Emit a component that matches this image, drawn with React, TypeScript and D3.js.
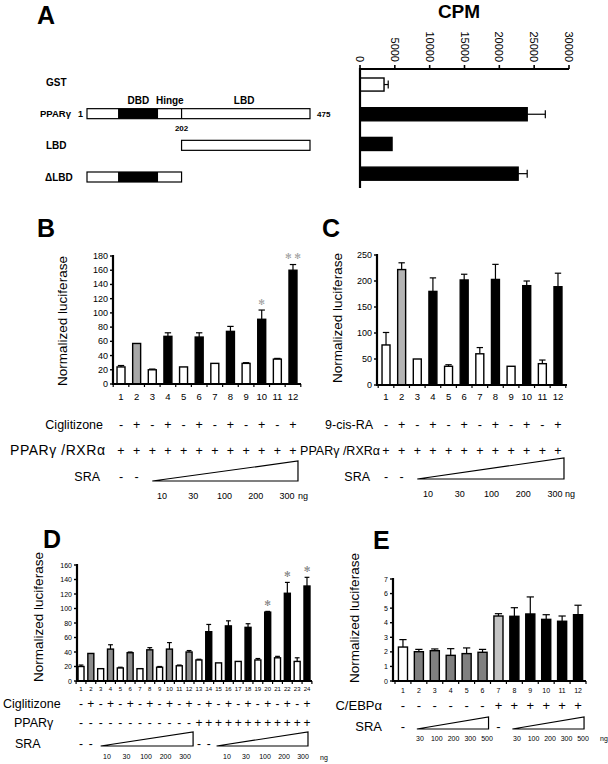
import * as d3 from 'd3';

const FONT = '"Liberation Sans", Arial, Helvetica, sans-serif';

// ---------- panel A: GST pull-down ----------
const aRows = ['GST', 'PPARγ', 'LBD', 'ΔLBD'];
const aCpm = [3450, 24000, 4600, 22700];
const aCpmErr = [4050, 26600, 4600, 24000];
const aCpmTicks = [0, 5000, 10000, 15000, 20000, 25000, 30000];
const aFills = ['white', 'black', 'black', 'black'];
// residue spans of each construct, DBD span
const aSpans: ([number, number] | null)[] = [null, [1, 475], [202, 475], [1, 202]];
const aDbd: ([number, number] | null)[] = [null, [67, 152], null, [67, 152]];
const aHinge = 202;
const aLength = 475;

// ---------- panel B: Ciglitizone ----------
const bLanes = ['1', '2', '3', '4', '5', '6', '7', '8', '9', '10', '11', '12'];
const bValues = [24, 57, 20, 67, 24, 66, 29, 74, 29, 91, 35, 160];
const bErr = [26, 57, 21, 72, 24, 72, 29, 81, 30, 104, 36, 168];
const bFills = ['white', '#a8a8a8', 'white', 'black', 'white', 'black', 'white', 'black', 'white', 'black', 'white', 'black'];
const bTicks = [0, 20, 40, 60, 80, 100, 120, 140, 160, 180];
const bStars: Record<number, string> = { 9: '✻', 11: '✻ ✻' };
const bLigand = ['-', '+', '-', '+', '-', '+', '-', '+', '-', '+', '-', '+'];
const bReceptor = ['+', '+', '+', '+', '+', '+', '+', '+', '+', '+', '+', '+'];
const bSra = ['-', '-', '', '', '', '', '', '', '', '', '', ''];
const srDoses = ['10', '30', '100', '200', '300'];

// ---------- panel C: 9-cis-RA ----------
const cValues = [77, 222, 50, 180, 36, 202, 60, 203, 36, 191, 41, 189];
const cErr = [101, 235, 50, 206, 39, 213, 72, 232, 36, 200, 48, 215];
const cFills = ['white', '#b4b4b4', 'white', 'black', 'white', 'black', 'white', 'black', 'white', 'black', 'white', 'black'];
const cTicks = [0, 50, 100, 150, 200, 250];

// ---------- panel D ----------
const dLanes = ['1', '2', '3', '4', '5', '6', '7', '8', '9', '10', '11', '12', '13', '14', '15', '16', '17', '18', '19', '20', '21', '22', '23', '24'];
const dValues = [20, 38, 17, 44, 18, 39, 17, 43, 19, 44, 21, 40, 29, 68, 25, 76, 27, 74, 29, 95, 32, 121, 27, 131];
const dErr = [22, 38, 17, 50, 19, 40, 17, 46, 20, 53, 22, 42, 30, 78, 25, 83, 27, 79, 31, 96, 34, 136, 32, 143];
const dFills = ['white', '#8c8c8c', 'white', '#8c8c8c', 'white', '#8c8c8c', 'white', '#8c8c8c', 'white', '#8c8c8c', 'white', '#8c8c8c',
  'white', 'black', 'white', 'black', 'white', 'black', 'white', 'black', 'white', 'black', 'white', 'black'];
const dTicks = [0, 20, 40, 60, 80, 100, 120, 140, 160];
const dStars: Record<number, string> = { 19: '✻', 21: '✻', 23: '✻' };
const dLigand = ['-', '+', '-', '+', '-', '+', '-', '+', '-', '+', '-', '+', '-', '+', '-', '+', '-', '+', '-', '+', '-', '+', '-', '+'];
const dReceptor = ['-', '-', '-', '-', '-', '-', '-', '-', '-', '-', '-', '-', '+', '+', '+', '+', '+', '+', '+', '+', '+', '+', '+', '+'];
const dSra = ['-', '-', '', '', '', '', '', '', '', '', '', '', '-', '-', '', '', '', '', '', '', '', '', '', ''];

// ---------- panel E: C/EBPα ----------
const eValues = [2.33, 2.01, 2.08, 1.76, 1.88, 1.97, 4.46, 4.44, 4.6, 4.23, 4.1, 4.55];
const eErr = [2.84, 2.17, 2.2, 2.22, 2.27, 2.17, 4.62, 5.03, 5.77, 4.55, 4.46, 5.2];
const eFills = ['white', '#808080', '#808080', '#808080', '#808080', '#808080', '#c4c4c4', 'black', 'black', 'black', 'black', 'black'];
const eTicks = [0, 1, 2, 3, 4, 5, 6, 7];
const eCebp = ['-', '-', '-', '-', '-', '-', '+', '+', '+', '+', '+', '+'];
const eSra = ['-', '', '', '', '', '', '-', '', '', '', '', ''];
const eDoses = ['30', '100', '200', '300', '500'];

const band = (cats: string[], r: [number, number], pad: number) =>
  d3.scaleBand<string>().domain(cats).range(r).paddingInner(pad).paddingOuter(pad / 2);

const xB = band(bLanes, [113.2, 300.8], 0.49);
const xC = band(bLanes, [378.2, 565.8], 0.49);
const xD = band(dLanes, [76.1, 311.9], 0.39);
const xE = band(bLanes, [395, 586], 0.43);
const mid = (x: d3.ScaleBand<string>, i: number) => (x(x.domain()[i]) ?? 0) + x.bandwidth() / 2;

type ChartProps = {
  x: d3.ScaleBand<string>;
  values: number[];
  errs: number[];
  fills: string[];
  axis: [number, number];
  yMax: number;
  yPix: [number, number];
  ticks: number[];
  tickFont: number;
  catFont: number;
  catY: number;
  title: string;
  titleX: number;
  titleY: number;
  stars?: Record<number, string>;
  starColor?: string;
  starFont?: number;
};

function BarChart(p: ChartProps) {
  const y = d3.scaleLinear().domain([0, p.yMax]).range(p.yPix);
  const bw = p.x.bandwidth();
  const cats = p.x.domain();
  const step = p.x.step();
  const r0 = p.x.range()[0];
  return (
    <g>
      {cats.map((c, i) => {
        const cx = mid(p.x, i);
        return (
          <g key={c}>
            {p.errs[i] > p.values[i] && (
              <g stroke="black" strokeWidth={1.2}>
                <line x1={cx} x2={cx} y1={y(p.values[i])} y2={y(p.errs[i])} />
                <line x1={cx - bw * 0.4} x2={cx + bw * 0.4} y1={y(p.errs[i])} y2={y(p.errs[i])} />
              </g>
            )}
            <rect x={p.x(c)} y={y(p.values[i])} width={bw} height={y(0) - y(p.values[i])}
              fill={p.fills[i]} stroke="black" strokeWidth={1.4} />
            <text x={cx} y={p.catY} fontSize={p.catFont} textAnchor="middle">{c}</text>
            {p.stars && p.stars[i] && (
              <text x={cx} y={y(p.errs[i]) - 8} fontSize={p.starFont} fill={p.starColor}
                textAnchor="middle" dominantBaseline="central" fontFamily="DejaVu Sans">{p.stars[i]}</text>
            )}
          </g>
        );
      })}
      <line x1={p.axis[0]} x2={p.axis[0]} y1={y(0) + 1} y2={y(p.yMax) - 1} stroke="black" strokeWidth={2.2} />
      <line x1={p.axis[0]} x2={p.axis[1]} y1={y(0)} y2={y(0)} stroke="black" strokeWidth={2.2} />
      {d3.range(cats.length + 1).map((k) => (
        <line key={k} x1={r0 + step * k} x2={r0 + step * k} y1={y(0)} y2={y(0) + 3} stroke="black" strokeWidth={1.2} />
      ))}
      {p.ticks.map((t) => (
        <g key={t}>
          <line x1={p.axis[0] - 3} x2={p.axis[0]} y1={y(t)} y2={y(t)} stroke="black" strokeWidth={1.4} />
          <text x={p.axis[0] - 5} y={y(t)} fontSize={p.tickFont} textAnchor="end" dominantBaseline="central">{t}</text>
        </g>
      ))}
      <text transform={`translate(${p.titleX},${p.titleY}) rotate(-90)`} fontSize={13.5} textAnchor="middle">{p.title}</text>
    </g>
  );
}

function SignRow({ x, signs, y, size }: { x: d3.ScaleBand<string>; signs: string[]; y: number; size: number }) {
  return (
    <g>
      {signs.map((s, i) => s && (
        <text key={i} x={mid(x, i)} y={y} fontSize={size} textAnchor="middle">{s}</text>
      ))}
    </g>
  );
}

function Ramp({ x0, x1, top, bottom }: { x0: number; x1: number; top: number; bottom: number }) {
  return <path d={`M${x0},${bottom}L${x1},${top}L${x1},${bottom}Z`} fill="white" stroke="black" strokeWidth={1.2} />;
}

function Doses({ doses, r, y, size, unit, unitDx }: { doses: string[]; r: [number, number]; y: number; size: number; unit?: string; unitDx?: number }) {
  const p = d3.scalePoint<string>().domain(doses).range(r);
  return (
    <g fontSize={size}>
      {doses.map((d) => (
        <text key={d} x={p(d)} y={y} textAnchor="middle">{d}</text>
      ))}
      {unit && <text x={r[1] + (unitDx ?? 10)} y={y}>{unit}</text>}
    </g>
  );
}

function PanelA() {
  const xs = d3.scaleLinear().domain([0, 30000]).range([360, 569]);
  const ys = d3.scaleBand<string>().domain(aRows).range([78, 180.2]).paddingInner(0.56).paddingOuter(0);
  const res = d3.scaleLinear().domain([1, aLength]).range([87, 310]);
  const rowY = d3.scalePoint<string>().domain(aRows).range([82, 177]);
  return (
    <g>
      <text x={37} y={24} fontSize={25} fontWeight="bold">A</text>
      <text x={459} y={18} fontSize={19} fontWeight="bold" textAnchor="middle">CPM</text>
      {/* diagram */}
      {aRows.map((r, i) => {
        const cy = rowY(r) ?? 0;
        const span = aSpans[i];
        const dbd = aDbd[i];
        return (
          <g key={r}>
            <text x={i === 1 ? 40 : i === 3 ? 45 : 46} y={cy + 3.5} fontSize={i === 1 ? 9.5 : 10} fontWeight="bold">
              {r}
            </text>
            {span && (
              <rect x={res(span[0])} y={cy - 5} width={res(span[1]) - res(span[0])} height={10} fill="white" stroke="black" strokeWidth={1.2} />
            )}
            {dbd && <rect x={res(dbd[0])} y={cy - 5} width={res(dbd[1]) - res(dbd[0])} height={10} fill="black" />}
            {i === 1 && <line x1={res(aHinge)} x2={res(aHinge)} y1={cy - 5} y2={cy + 5} stroke="black" strokeWidth={1.2} />}
          </g>
        );
      })}
      <text x={78} y={117} fontSize={9} fontWeight="bold">1</text>
      <text x={res(110)} y={104} fontSize={10} fontWeight="bold" textAnchor="middle">DBD</text>
      <text x={res(177)} y={104} fontSize={10} fontWeight="bold" textAnchor="middle">Hinge</text>
      <text x={res(335)} y={104} fontSize={10} fontWeight="bold" textAnchor="middle">LBD</text>
      <text x={res(aHinge)} y={131} fontSize={8} fontWeight="bold" textAnchor="middle">202</text>
      <text x={res(aLength) + 7} y={117} fontSize={8} fontWeight="bold">475</text>
      {/* binding chart */}
      {aRows.map((r, i) => {
        const y0 = ys(r) ?? 0;
        const h = ys.bandwidth();
        return (
          <g key={r}>
            <rect x={xs(0)} y={y0} width={xs(aCpm[i]) - xs(0)} height={h} fill={aFills[i]} stroke="black" strokeWidth={1.4} />
            {aCpmErr[i] > aCpm[i] && (
              <g stroke="black" strokeWidth={1.2}>
                <line x1={xs(aCpm[i])} x2={xs(aCpmErr[i])} y1={y0 + h / 2} y2={y0 + h / 2} />
                <line x1={xs(aCpmErr[i])} x2={xs(aCpmErr[i])} y1={y0 + h / 2 - 4} y2={y0 + h / 2 + 4} />
              </g>
            )}
          </g>
        );
      })}
      <line x1={xs(0)} x2={xs(0)} y1={68} y2={188} stroke="black" strokeWidth={2.2} />
      <line x1={xs(0)} x2={xs(30000)} y1={69} y2={69} stroke="black" strokeWidth={2.2} />
      {aCpmTicks.map((t) => (
        <g key={t}>
          <line x1={xs(t)} x2={xs(t)} y1={69} y2={65} stroke="black" strokeWidth={1.6} />
          <text transform={`translate(${xs(t)},62) rotate(90)`} fontSize={11} textAnchor="end" dominantBaseline="central">{t}</text>
        </g>
      ))}
    </g>
  );
}

export default function App() {
  return (
    <svg width={608} height={764} style={{ position: 'absolute', left: 0, top: 0, background: 'white' }} fontFamily={FONT}>
      <rect width={608} height={764} fill="white" />
      <PanelA />

      {/* B */}
      <text x={37} y={237} fontSize={25} fontWeight="bold">B</text>
      <BarChart x={xB} values={bValues} errs={bErr} fills={bFills} axis={[113, 301]} yMax={180} yPix={[384, 256]}
        ticks={bTicks} tickFont={9} catFont={9.5} catY={400} title="Normalized luciferase" titleX={67} titleY={321}
        stars={bStars} starColor="#999" starFont={8} />
      <text x={103} y={429} fontSize={12.5} textAnchor="end">Ciglitizone</text>
      <SignRow x={xB} signs={bLigand} y={429} size={12.5} />
      <text x={10} y={455} fontSize={14} textLength={95} lengthAdjust="spacing">PPARγ /RXRα</text>
      <SignRow x={xB} signs={bReceptor} y={455} size={12.5} />
      <text x={100} y={481} fontSize={12.5} textAnchor="end">SRA</text>
      <SignRow x={xB} signs={bSra} y={481} size={12.5} />
      <Ramp x0={mid(xB, 2)} x1={mid(xB, 11) + 5} top={461} bottom={481} />
      <Doses doses={srDoses} r={[162, 287]} y={499} size={9} unit="ng" unitDx={11} />

      {/* C */}
      <text x={322} y={237} fontSize={25} fontWeight="bold">C</text>
      <BarChart x={xC} values={cValues} errs={cErr} fills={cFills} axis={[377, 567]} yMax={250} yPix={[385, 255]}
        ticks={cTicks} tickFont={9} catFont={9.5} catY={400} title="Normalized luciferase" titleX={342} titleY={318} />
      <text x={373} y={429} fontSize={12.5} textAnchor="end">9-cis-RA</text>
      <SignRow x={xC} signs={bLigand} y={429} size={12.5} />
      <text x={380} y={455} fontSize={12.5} textAnchor="end">PPARγ /RXRα</text>
      <SignRow x={xC} signs={bReceptor} y={455} size={12.5} />
      <text x={370} y={481} fontSize={12.5} textAnchor="end">SRA</text>
      <SignRow x={xC} signs={bSra} y={481} size={12.5} />
      <Ramp x0={mid(xC, 2)} x1={mid(xC, 11) + 6} top={458} bottom={479} />
      <Doses doses={srDoses} r={[428, 555]} y={497} size={9} unit="ng" unitDx={10} />

      {/* D */}
      <text x={43} y={548} fontSize={25} fontWeight="bold">D</text>
      <BarChart x={xD} values={dValues} errs={dErr} fills={dFills} axis={[77, 312]} yMax={160} yPix={[681, 565]}
        ticks={dTicks} tickFont={7} catFont={6} catY={691} title="Normalized luciferase" titleX={43} titleY={617}
        stars={dStars} starColor="#777" starFont={8} />
      <text x={3} y={708} fontSize={12.5}>Ciglitizone</text>
      <SignRow x={xD} signs={dLigand} y={708} size={12} />
      <text x={14} y={727} fontSize={12.5}>PPARγ</text>
      <SignRow x={xD} signs={dReceptor} y={727} size={12} />
      <text x={15} y={748} fontSize={12.5}>SRA</text>
      <SignRow x={xD} signs={dSra} y={748} size={12} />
      <Ramp x0={mid(xD, 2)} x1={mid(xD, 11) + 4} top={732} bottom={746} />
      <Ramp x0={mid(xD, 14) - 2} x1={mid(xD, 23) + 1} top={732} bottom={746} />
      <Doses doses={srDoses} r={[107, 185]} y={759} size={7} />
      <Doses doses={srDoses} r={[227, 303]} y={759} size={7} />
      <text x={320} y={760} fontSize={7}>ng</text>

      {/* E */}
      <text x={373} y={549} fontSize={25} fontWeight="bold">E</text>
      <BarChart x={xE} values={eValues} errs={eErr} fills={eFills} axis={[393, 586]} yMax={7} yPix={[681, 579]}
        ticks={eTicks} tickFont={7} catFont={7} catY={693} title="Normalized luciferase" titleX={359} titleY={618} />
      <text x={382} y={710} fontSize={13} textAnchor="end">C/EBPα</text>
      <SignRow x={xE} signs={eCebp} y={710} size={13} />
      <text x={382} y={731} fontSize={13} textAnchor="end">SRA</text>
      <SignRow x={xE} signs={eSra} y={731} size={13} />
      <Ramp x0={mid(xE, 1) - 2} x1={mid(xE, 5) + 6} top={717} bottom={729} />
      <Ramp x0={mid(xE, 7) - 2} x1={mid(xE, 11) + 6} top={717} bottom={729} />
      <Doses doses={eDoses} r={[420, 487]} y={741} size={7} />
      <Doses doses={eDoses} r={[517, 583]} y={741} size={7} />
      <text x={600} y={741} fontSize={7}>ng</text>
    </svg>
  );
}
